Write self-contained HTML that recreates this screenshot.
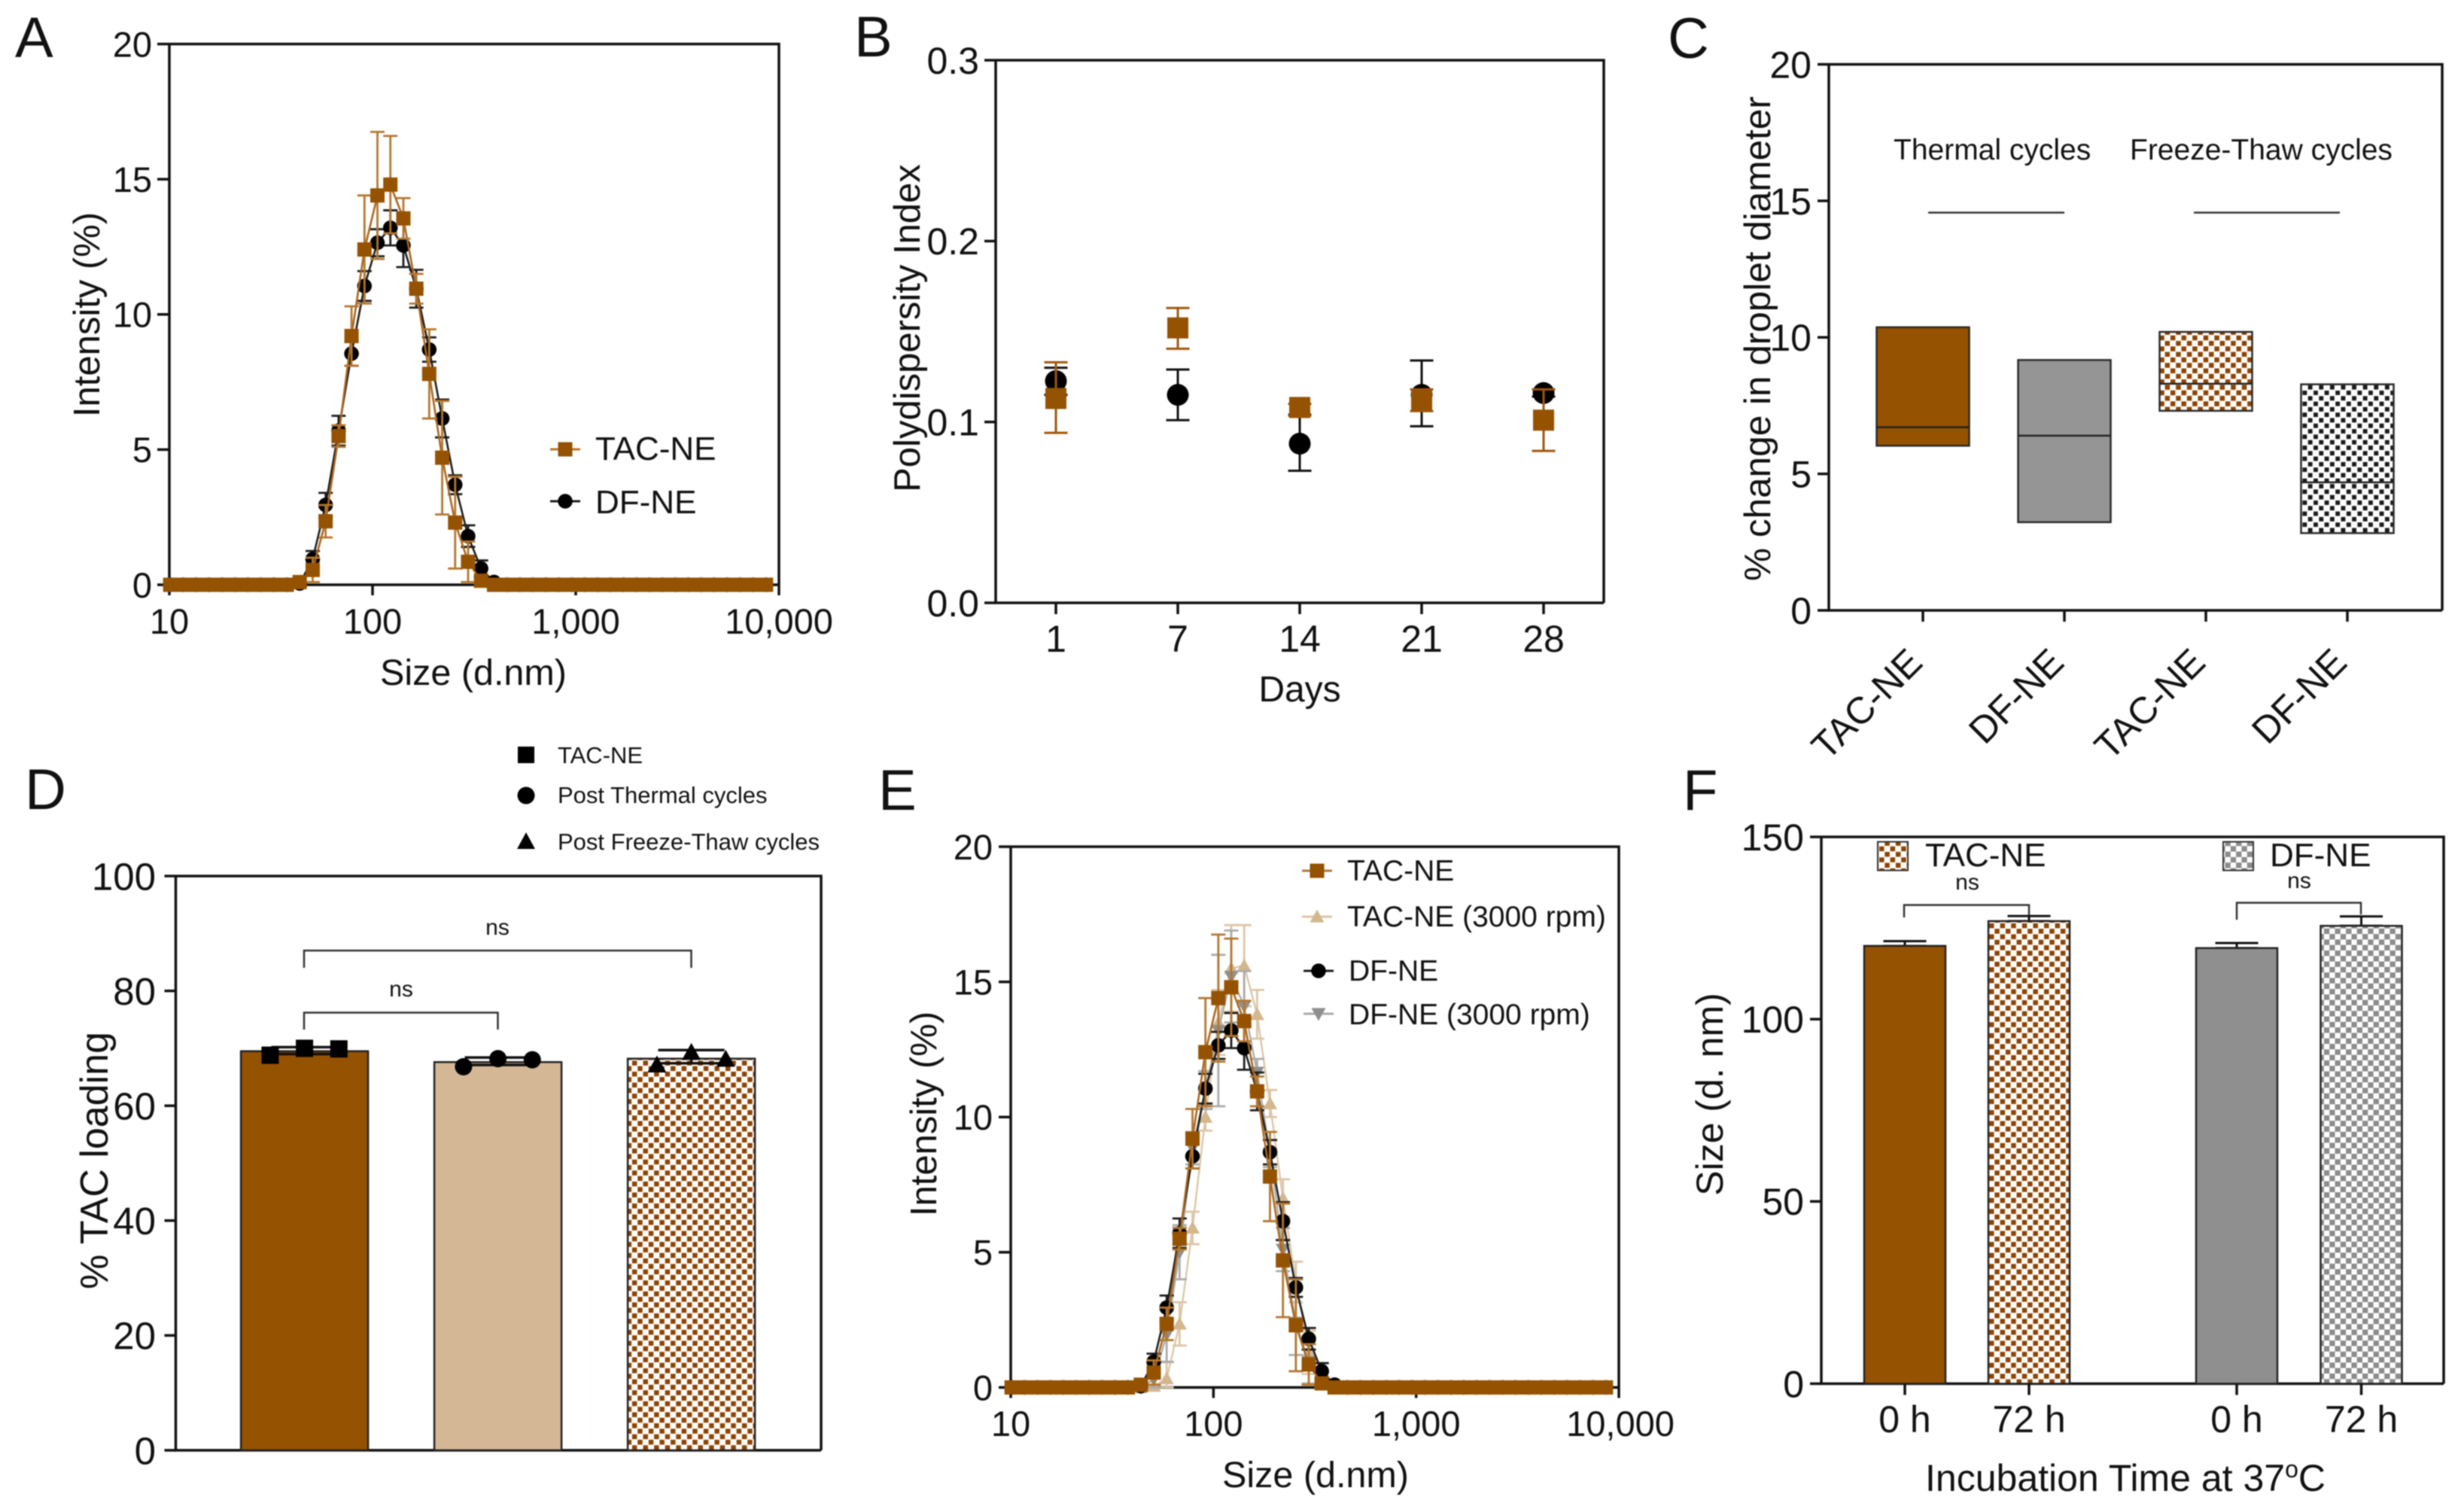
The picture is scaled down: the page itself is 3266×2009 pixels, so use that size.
<!DOCTYPE html>
<html lang="en">
<head>
<meta charset="utf-8">
<title>Nanoemulsion characterisation panels</title>
<style>
html,body{margin:0;padding:0;background:#fff;}
svg{display:block;filter:blur(0.7px);}
text{font-family:"Liberation Sans",Arial,sans-serif;fill:#111;}
</style>
</head>
<body>
<svg id="fig" xmlns="http://www.w3.org/2000/svg" width="3266" height="2009" viewBox="0 0 3266 2009">
<defs>
<pattern id="chk-brown" patternUnits="userSpaceOnUse" width="14.6" height="14.6"><rect width="14.6" height="14.6" fill="#fff"/><rect x="0.4" y="0.4" width="6.5" height="6.5" fill="#8f4300"/><rect x="7.7" y="7.7" width="6.5" height="6.5" fill="#8f4300"/></pattern>
<pattern id="chk-black" patternUnits="userSpaceOnUse" width="14.6" height="14.6"><rect width="14.6" height="14.6" fill="#fff"/><rect x="0.7" y="0.7" width="5.9" height="5.9" fill="#1a1a1a"/><rect x="8" y="8" width="5.9" height="5.9" fill="#1a1a1a"/></pattern>
<pattern id="chk-gray" patternUnits="userSpaceOnUse" width="14.6" height="14.6"><rect width="14.6" height="14.6" fill="#fff"/><rect width="7.3" height="7.3" fill="#8c8c8c"/><rect x="7.3" y="7.3" width="7.3" height="7.3" fill="#8c8c8c"/></pattern>
</defs>
<rect width="3266" height="2009" fill="#fff"/>

<g id="panel-a">
<text x="20" y="76" font-size="76">A</text>
<text transform="translate(132 418) rotate(-90)" text-anchor="middle" font-size="49">Intensity (%)</text>
<text x="629" y="910" text-anchor="middle" font-size="48.5">Size (d.nm)</text>
<text x="791" y="611" font-size="44">TAC-NE</text>
<text x="791" y="682" font-size="44">DF-NE</text>
</g>

<g id="panel-b">
<text x="1135" y="75" font-size="76">B</text>
<text transform="translate(1222 436) rotate(-90)" text-anchor="middle" font-size="49">Polydispersity Index</text>
<text x="1727" y="932" text-anchor="middle" font-size="48">Days</text>
</g>

<g id="panel-c">
<text x="2216" y="77" font-size="76">C</text>
<text transform="translate(2352 450) rotate(-90)" text-anchor="middle" font-size="49.5">% change in droplet diameter</text>
<text x="2516" y="212" font-size="39">Thermal cycles</text>
<text x="2830" y="212" font-size="39">Freeze-Thaw cycles</text>
<line x1="2562" x2="2743" y1="282.5" y2="282.5" stroke="#333" stroke-width="2.5"/>
<line x1="2915" x2="3109" y1="282.5" y2="282.5" stroke="#333" stroke-width="2.5"/>
</g>

<g id="panel-d">
<text x="33" y="1075" font-size="76">D</text>
<text transform="translate(143 1542) rotate(-90)" text-anchor="middle" font-size="52">% TAC loading</text>
<rect x="688" y="992" width="22" height="22" fill="#000"/>
<circle cx="699" cy="1057" r="11.5" fill="#000"/>
<polygon points="699,1106 711,1128 687,1128" fill="#000"/>
<text x="741" y="1014" font-size="31">TAC-NE</text>
<text x="741" y="1067" font-size="31">Post Thermal cycles</text>
<text x="741" y="1129" font-size="31">Post Freeze-Thaw cycles</text>
<path d="M404 1286V1263H918.5V1286" fill="none" stroke="#333" stroke-width="2.5"/>
<path d="M404 1368V1345.5H661.5V1368" fill="none" stroke="#333" stroke-width="2.5"/>
<text x="661" y="1242" text-anchor="middle" font-size="30">ns</text>
<text x="533" y="1324" text-anchor="middle" font-size="30">ns</text>
</g>

<g id="panel-e">
<text x="1167" y="1076" font-size="76">E</text>
<text transform="translate(1244 1480) rotate(-90)" text-anchor="middle" font-size="49">Intensity (%)</text>
<text x="1748" y="1976" text-anchor="middle" font-size="48.5">Size (d.nm)</text>
<text x="1790" y="1170" font-size="39">TAC-NE</text>
<text x="1790" y="1231" font-size="39">TAC-NE (3000 rpm)</text>
<text x="1792" y="1303" font-size="39">DF-NE</text>
<text x="1792" y="1361" font-size="39">DF-NE (3000 rpm)</text>
</g>

<g id="panel-f">
<text x="2236" y="1076" font-size="76">F</text>
<text transform="translate(2289 1454) rotate(-90)" text-anchor="middle" font-size="50">Size (d. nm)</text>
<text x="2558" y="1981" font-size="50">Incubation Time at 37<tspan dy="-18" font-size="32">o</tspan><tspan dy="18">C</tspan></text>
<rect x="2495" y="1118.5" width="40" height="38" fill="url(#chk-brown)" stroke="#333" stroke-width="2"/>
<text x="2558" y="1151" font-size="44">TAC-NE</text>
<rect x="2954" y="1118.5" width="40" height="38" fill="url(#chk-gray)" stroke="#333" stroke-width="2"/>
<text x="3016" y="1151" font-size="44">DF-NE</text>
<path d="M2530 1219V1202.5H2696V1217" fill="none" stroke="#333" stroke-width="2.5"/>
<path d="M2972 1222V1199.5H3137V1215" fill="none" stroke="#333" stroke-width="2.5"/>
<text x="2614" y="1182" text-anchor="middle" font-size="30">ns</text>
<text x="3055" y="1180" text-anchor="middle" font-size="30">ns</text>
</g>
</svg>

<script>
// ---------- data: size distributions (panels A, E) ----------
const sizesNm = [10.1,11.7,13.54,15.69,18.17,21.04,24.36,28.21,32.67,37.84,43.82,50.75,58.77,68.06,78.82,91.28,105.7,122.4,141.8,164.2,190.1,220.2,255,295.3,342,396.1,458.7,531.2,615.1,712.4,825,955.4,1106,1281,1484,1718,1990,2305,2669,3091,3580,4145,4801,5560,6439,7456,8635];
const tacNeIntensity = [0,0,0,0,0,0,0,0,0,0,0.1,0.55,2.35,5.5,9.2,12.4,14.4,14.8,13.55,10.95,7.8,4.7,2.3,0.85,0.15,0,0,0,0,0,0,0,0,0,0,0,0,0,0,0,0,0,0,0,0,0,0];
const tacNeError = [0,0,0,0,0,0,0,0,0,0,0,0.45,0.6,0.4,1.1,2,2.35,1.8,0.75,0.55,1.65,2.1,1.7,0.75,0.1,0,0,0,0,0,0,0,0,0,0,0,0,0,0,0,0,0,0,0,0,0,0];
const dfNeIntensity = [0,0,0,0,0,0,0,0,0,0,0.05,0.95,2.95,5.7,8.55,11.05,12.65,13.2,12.55,10.95,8.7,6.15,3.7,1.8,0.6,0.1,0,0,0,0,0,0,0,0,0,0,0,0,0,0,0,0,0,0,0,0,0];
const dfNeError = [0,0,0,0,0,0,0,0,0,0,0,0.3,0.45,0.55,0.45,0.55,0.5,0.65,0.8,0.7,0.45,0.7,0.35,0.4,0.3,0.05,0,0,0,0,0,0,0,0,0,0,0,0,0,0,0,0,0,0,0,0,0];
const tac3000Intensity = [0,0,0,0,0,0,0,0,0,0,0,0.05,0.33,2.35,5.9,10,13.5,15.5,15.6,13.8,10.5,7,3.9,1.3,0.2,0,0,0,0,0,0,0,0,0,0,0,0,0,0,0,0,0,0,0,0,0,0];
const tac3000Error = [0,0,0,0,0,0,0,0,0,0,0,0.05,0.6,0.8,0.6,0.5,1.2,1.6,1.5,0.9,0.5,0.7,0.75,0.8,0.2,0,0,0,0,0,0,0,0,0,0,0,0,0,0,0,0,0,0,0,0,0,0];
const df3000Intensity = [0,0,0,0,0,0,0,0,0,0,0,0.3,1.95,5,8.85,11,13.2,15.2,14.1,11.65,8.65,5.1,2.4,0.95,0.2,0,0,0,0,0,0,0,0,0,0,0,0,0,0,0,0,0,0,0,0,0,0];
const df3000Error = [0,0,0,0,0,0,0,0,0,0,0,0.3,1,1,0.6,0.7,2.8,1.7,1.3,0.5,0.5,0.8,1.2,0.8,0.2,0,0,0,0,0,0,0,0,0,0,0,0,0,0,0,0,0,0,0,0,0,0];
const intensityTicks = [0,5,10,15,20];
const sizeTicks = [10,100,1000,10000];
const sizeTickLabels = ['10','100','1,000','10,000'];

// ---------- data: polydispersity (panel B) ----------
const pdiDays = ['1','7','14','21','28'];
const pdiDf = [0.1226,0.115,0.088,0.115,0.116];
const pdiDfUpper = [0.130,0.129,0.104,0.134,0.118];
const pdiDfLower = [0.115,0.101,0.073,0.0976,0.114];
const pdiTac = [0.113,0.152,0.108,0.112,0.101];
const pdiTacUpper = [0.133,0.163,0.110,0.118,0.118];
const pdiTacLower = [0.094,0.1405,0.1035,0.106,0.084];
const pdiTicks = [0,0.1,0.2,0.3];
const pdiTickLabels = ['0.0','0.1','0.2','0.3'];

// ---------- data: droplet diameter change (panel C) ----------
const changeGroups = ['TAC-NE','DF-NE','TAC-NE','DF-NE'];
const changeHigh = [10.37,9.17,10.2,8.28];
const changeMedian = [6.71,6.4,8.3,4.69];
const changeLow = [6.03,3.23,7.31,2.83];
const changeTicks = [0,5,10,15,20];

// ---------- data: TAC loading (panel D) ----------
const loadingMean = [69.5,67.6,68.2];
const loadingUpper = [70.2,68.4,69.7];
const loadingLower = [69,67.1,67.4];
const loadingReplicates = [[68.8,70,69.9],[66.8,68.2,68],[67.1,69.3,68.1]];
const loadingTicks = [0,20,40,60,80,100];

// ---------- data: incubation size (panel F) ----------
const incubationLabels = ['0 h','72 h','0 h','72 h'];
const incubationMean = [120.1,126.9,119.5,125.6];
const incubationUpper = [121.4,128.3,120.9,128.2];
const incubationTicks = [0,50,100,150];

// ---------- helpers ----------
const NS = 'http://www.w3.org/2000/svg';
function add(parent, tag, attrs) {
  const e = document.createElementNS(NS, tag);
  for (const k in attrs) e.setAttribute(k, attrs[k]);
  parent.appendChild(e);
  return e;
}
const logX = (L, R) => v => L + (Math.log10(v) - 1) / 3 * (R - L);
const linY = (T, B, max) => v => B - (v / max) * (B - T);
const catX = (first, step) => i => first + i * step;

function marker(parent, shape, cx, cy, s, fill) {
  const h = s / 2;
  if (shape === 'square') return add(parent, 'rect', {x: cx - h, y: cy - h, width: s, height: s, fill: fill});
  if (shape === 'circle') return add(parent, 'circle', {cx: cx, cy: cy, r: h, fill: fill});
  if (shape === 'up') return add(parent, 'polygon', {points: `${cx},${cy - h} ${cx + h},${cy + h * 0.8} ${cx - h},${cy + h * 0.8}`, fill: fill});
  return add(parent, 'polygon', {points: `${cx},${cy + h} ${cx + h},${cy - h * 0.8} ${cx - h},${cy - h * 0.8}`, fill: fill});
}

function errorBar(parent, x, y1, y2, capW, color, sw) {
  const d = `M${x} ${y1}V${y2}M${x - capW / 2} ${y1}H${x + capW / 2}M${x - capW / 2} ${y2}H${x + capW / 2}`;
  return add(parent, 'path', {d: d, fill: 'none', stroke: color, 'stroke-width': sw});
}

function drawFrame(g, b) {
  const frame = add(g, 'path', {d: `M${b.L} ${b.T}H${b.R}V${b.B}M${b.L} ${b.T}V${b.B}H${b.R}`, fill: 'none', stroke: '#111', 'stroke-width': 3.5});
  
  
}

function drawYTicks(g, b, y, ticks, labels, fs, tickLen, labelRight) {
  ticks.forEach((t, i) => {
    const tick = add(g, 'line', {x1: b.L - tickLen, x2: b.L, y1: y(t), y2: y(t), stroke: '#111', 'stroke-width': 3.5});
    
    
    const lab = add(g, 'text', {x: labelRight, y: y(t) + fs * 0.358, 'text-anchor': 'end', 'font-size': fs});
    lab.textContent = labels[i];
    
    
  });
}

function drawXTick(g, b, x, tickLen) {
  const tick = add(g, 'line', {x1: x, x2: x, y1: b.B, y2: b.B + tickLen, stroke: '#111', 'stroke-width': 3.5});
  
  
}

function drawXLabel(g, x, y, text, fs) {
  const lab = add(g, 'text', {x: x, y: y, 'text-anchor': 'middle', 'font-size': fs});
  lab.textContent = text;
  
  
}

function drawSizeSeries(g, x, y, vals, errs, st, name) {
  const line = add(g, 'polyline', {points: vals.map((v, i) => `${x(sizesNm[i])},${y(v)}`).join(' '), fill: 'none', stroke: st.line, 'stroke-width': st.lw});
  
  
  vals.forEach((v, i) => {
    if (errs[i] > 0) {
      const eb = errorBar(g, x(sizesNm[i]), y(v + errs[i]), y(Math.max(v - errs[i], 0)), 19, st.err, 2.8);
      
      
    }
  });
  vals.forEach((v, i) => {
    const m = marker(g, st.shape, x(sizesNm[i]), y(v), st.size, st.fill);
    
    
  });
}

function drawLegendKey(g, cx, cy, halfW, st, name) {
  const l = add(g, 'line', {x1: cx - halfW, x2: cx + halfW, y1: cy, y2: cy, stroke: st.err, 'stroke-width': 3});
  
  
  const m = marker(g, st.shape, cx, cy, st.size, st.fill);
  
  
}

const BROWN = '#955200';
const styleTac = {shape: 'square', size: 19, fill: BROWN, line: '#a9661c', err: '#b5772e', lw: 2.6};
const styleDf = {shape: 'circle', size: 19.5, fill: '#000', line: '#1c1c1c', err: '#1c1c1c', lw: 2.6};
const styleTac3000 = {shape: 'up', size: 19, fill: '#d3b78f', line: '#dcc6a6', err: '#dcc6a6', lw: 2.4};
const styleDf3000 = {shape: 'down', size: 19, fill: '#8f8f8f', line: '#ababab', err: '#ababab', lw: 2.4};

// ---------- panel A ----------
(function () {
  const g = document.getElementById('panel-a');
  const b = {L: 225, R: 1035, T: 58.5, B: 777};
  const x = logX(b.L, b.R), y = linY(b.T, b.B, 20);
  drawFrame(g, b);
  drawYTicks(g, b, y, intensityTicks, intensityTicks.map(String), 47, 16, 202);
  sizeTicks.forEach((t, i) => {
    drawXTick(g, b, x(t), 14);
    drawXLabel(g, x(t), 842, sizeTickLabels[i], 47);
  });
  drawSizeSeries(g, x, y, dfNeIntensity, dfNeError, styleDf, 'df-ne');
  drawSizeSeries(g, x, y, tacNeIntensity, tacNeError, styleTac, 'tac-ne');
  drawLegendKey(g, 751, 597, 20, styleTac, 'legend-key-tac-ne');
  drawLegendKey(g, 751, 666, 20, styleDf, 'legend-key-df-ne');
})();

// ---------- panel B ----------
(function () {
  const g = document.getElementById('panel-b');
  const b = {L: 1323, R: 2131, T: 80, B: 801};
  const x = catX(1403, 162), y = linY(b.T, b.B, 0.3);
  drawFrame(g, b);
  drawYTicks(g, b, y, pdiTicks, pdiTickLabels, 50, 15, 1301);
  pdiDays.forEach((d, i) => {
    drawXTick(g, b, x(i), 15);
    drawXLabel(g, x(i), 866, d, 50);
  });
  pdiDays.forEach((d, i) => {
    const eb = errorBar(g, x(i), y(pdiDfUpper[i]), y(pdiDfLower[i]), 31, '#111', 3);
    
    
    const m = marker(g, 'circle', x(i), y(pdiDf[i]), 29, '#000');
    
    
  });
  pdiDays.forEach((d, i) => {
    const eb = errorBar(g, x(i), y(pdiTacUpper[i]), y(pdiTacLower[i]), 31, '#a0560c', 3);
    
    
    const m = marker(g, 'square', x(i), y(pdiTac[i]), 28, BROWN);
    
    
  });
})();

// ---------- panel C ----------
(function () {
  const g = document.getElementById('panel-c');
  const b = {L: 2430, R: 3245, T: 85.5, B: 811};
  const x = catX(2555, 188), y = linY(b.T, b.B, 20);
  const fills = [BROWN, '#959595', 'url(#chk-brown)', 'url(#chk-black)'];
  drawFrame(g, b);
  drawYTicks(g, b, y, changeTicks, changeTicks.map(String), 50, 15, 2407);
  changeGroups.forEach((name, i) => {
    const box = add(g, 'rect', {x: x(i) - 61.5, y: y(changeHigh[i]), width: 123, height: y(changeLow[i]) - y(changeHigh[i]), fill: fills[i], stroke: '#2a2a2a', 'stroke-width': 2.5});
    
    
    const med = add(g, 'line', {x1: x(i) - 61.5, x2: x(i) + 61.5, y1: y(changeMedian[i]), y2: y(changeMedian[i]), stroke: '#222', 'stroke-width': 2.5});
    
    
    drawXTick(g, b, x(i), 15);
    const lab = add(g, 'text', {transform: `translate(${x(i) + 2} 883) rotate(-45)`, 'text-anchor': 'end', 'font-size': 50});
    lab.textContent = name;
    
    
  });
})();

// ---------- panel D ----------
(function () {
  const g = document.getElementById('panel-d');
  const b = {L: 233.5, R: 1091, T: 1164, B: 1927};
  const x = catX(404.6, 257), y = linY(b.T, b.B, 100);
  const fills = [BROWN, '#d4b896', 'url(#chk-brown)'];
  const shapes = ['square', 'circle', 'up'];
  const spread = [-45.7, 0, 45.7];
  drawFrame(g, b);
  drawYTicks(g, b, y, loadingTicks, loadingTicks.map(String), 51, 15, 207);
  loadingMean.forEach((v, i) => {
    const bar = add(g, 'rect', {x: x(i) - 84.5, y: y(v), width: 169, height: b.B - y(v), fill: fills[i], stroke: '#222', 'stroke-width': 2.5});
    
    
    const eb = errorBar(g, x(i), y(loadingUpper[i]), y(loadingLower[i]), 88, '#111', 3.5);
    
    
    loadingReplicates[i].forEach((r, j) => {
      const m = marker(g, shapes[i], x(i) + spread[j], y(r), shapes[i] === 'up' ? 25 : 23, '#000');
      
      
    });
  });
})();

// ---------- panel E ----------
(function () {
  const g = document.getElementById('panel-e');
  const b = {L: 1343, R: 2151, T: 1125, B: 1843.5};
  const x = logX(b.L, b.R), y = linY(b.T, b.B, 20);
  drawFrame(g, b);
  drawYTicks(g, b, y, intensityTicks, intensityTicks.map(String), 47, 16, 1319);
  sizeTicks.forEach((t, i) => {
    drawXTick(g, b, x(t), 14);
    drawXLabel(g, x(t) + (i === 3 ? 2 : 0), 1908, sizeTickLabels[i], 47);
  });
  drawSizeSeries(g, x, y, tac3000Intensity, tac3000Error, styleTac3000, 'tac-ne-3000-rpm');
  drawSizeSeries(g, x, y, df3000Intensity, df3000Error, styleDf3000, 'df-ne-3000-rpm');
  drawSizeSeries(g, x, y, dfNeIntensity, dfNeError, styleDf, 'df-ne');
  drawSizeSeries(g, x, y, tacNeIntensity, tacNeError, styleTac, 'tac-ne');
  drawLegendKey(g, 1750, 1157, 20, styleTac, 'legend-key-tac-ne');
  drawLegendKey(g, 1750, 1218, 20, styleTac3000, 'legend-key-tac-ne-3000-rpm');
  drawLegendKey(g, 1752, 1290, 20, styleDf, 'legend-key-df-ne');
  drawLegendKey(g, 1752, 1347, 20, styleDf3000, 'legend-key-df-ne-3000-rpm');
})();

// ---------- panel F ----------
(function () {
  const g = document.getElementById('panel-f');
  const b = {L: 2420, R: 3247, T: 1112, B: 1838.5};
  const centers = [2531, 2696, 2972, 3137.5];
  const y = linY(b.T, b.B, 150);
  const fills = [BROWN, 'url(#chk-brown)', '#8f8f8f', 'url(#chk-gray)'];
  drawFrame(g, b);
  drawYTicks(g, b, y, incubationTicks, incubationTicks.map(String), 50, 15, 2397);
  incubationLabels.forEach((name, i) => {
    const eb = errorBar(g, centers[i], y(incubationUpper[i]), y(incubationMean[i]), 57, '#111', 3);
    
    
    const bar = add(g, 'rect', {x: centers[i] - 54, y: y(incubationMean[i]), width: 108, height: b.B - y(incubationMean[i]), fill: fills[i], stroke: '#222', 'stroke-width': 2.5});
    
    
    drawXTick(g, b, centers[i], 15);
    drawXLabel(g, centers[i], 1903, name, 50);
  });
})();
</script>
</body>
</html>
